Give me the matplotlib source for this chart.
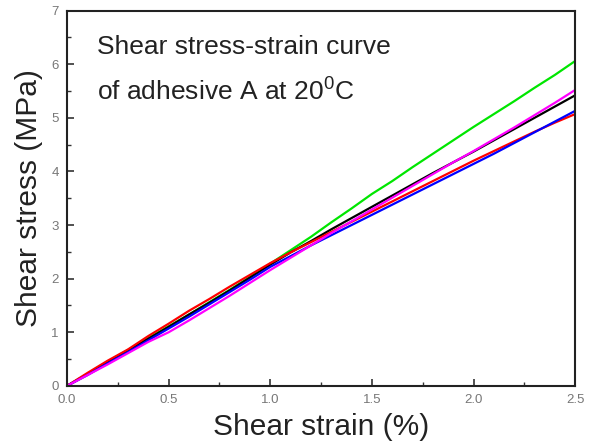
import matplotlib.pyplot as plt
import numpy as np

plt.rcParams['font.family'] = ['Liberation Sans', 'DejaVu Sans']

strain = [0.0, 0.1, 0.2, 0.3, 0.4, 0.5, 0.6, 0.7, 0.8, 0.9, 1.0, 1.1, 1.2,
          1.3, 1.4, 1.5, 1.6, 1.7, 1.8, 1.9, 2.0, 2.1, 2.2, 2.3, 2.4, 2.5]
green = [0, 0.22, 0.45, 0.67, 0.89, 1.11, 1.33, 1.56, 1.79, 2.03, 2.28, 2.53, 2.78,
         3.05, 3.31, 3.58, 3.82, 4.08, 4.33, 4.58, 4.83, 5.07, 5.31, 5.56, 5.80, 6.06]
black = [0, 0.22, 0.44, 0.66, 0.88, 1.10, 1.33, 1.55, 1.78, 2.02, 2.26, 2.49, 2.70,
         2.92, 3.13, 3.34, 3.55, 3.76, 3.97, 4.17, 4.37, 4.58, 4.79, 5.00, 5.21, 5.42]
red = [0, 0.24, 0.47, 0.68, 0.93, 1.16, 1.40, 1.62, 1.85, 2.07, 2.29, 2.49, 2.68,
       2.87, 3.06, 3.25, 3.44, 3.63, 3.82, 4.01, 4.20, 4.38, 4.56, 4.74, 4.91, 5.07]
blue = [0, 0.20, 0.42, 0.63, 0.85, 1.07, 1.29, 1.52, 1.75, 1.98, 2.22, 2.42, 2.62,
        2.81, 3.00, 3.19, 3.38, 3.57, 3.76, 3.95, 4.14, 4.33, 4.53, 4.73, 4.93, 5.13]
magenta = [0, 0.20, 0.40, 0.61, 0.82, 1.00, 1.22, 1.45, 1.68, 1.92, 2.16, 2.39, 2.62,
           2.85, 3.07, 3.29, 3.51, 3.73, 3.95, 4.17, 4.38, 4.60, 4.82, 5.05, 5.28, 5.52]

fig = plt.figure(figsize=(5.93, 4.41), dpi=100)
ax = fig.add_axes([0.113, 0.125, 0.857, 0.851])

ax.plot(strain, green, color='#00e600', lw=1.6)
ax.plot(strain, black, color='black', lw=1.6)
ax.plot(strain, red, color='red', lw=1.6)
ax.plot(strain, blue, color='blue', lw=1.6)
ax.plot(strain, magenta, color='#ff00ff', lw=1.6)

ax.set_xlim(0, 2.5)
ax.set_ylim(0, 7)
ax.set_xticks(np.arange(0, 2.51, 0.5))
ax.set_xticks(np.arange(0.25, 2.5, 0.5), minor=True)
ax.set_yticks(range(0, 8))
ax.set_yticks(np.arange(0.5, 7, 1.0), minor=True)
ax.set_xticklabels(['0.0', '0.5', '1.0', '1.5', '2.0', '2.5'])
ax.tick_params(which='both', direction='in', labelsize=9.5, labelcolor='#777777',
               color='#333333', top=False, right=False)
ax.tick_params(which='major', length=5, width=1.2, pad=6)
ax.tick_params(which='minor', length=3, width=1.0)
for s in ax.spines.values():
    s.set_linewidth(1.5)
    s.set_color('#222222')

ax.set_xlabel('Shear strain (%)', fontsize=21.5, color='#222222', labelpad=5)
ax.set_ylabel('Shear stress (MPa)', fontsize=21.5, color='#222222', labelpad=6)

ax.text(0.059, 0.902, 'Shear stress-strain curve', transform=ax.transAxes,
        fontsize=19, color='#222222', va='center')
ax.text(0.059, 0.787, 'of adhesive A at 20$^\\mathregular{0}$C', transform=ax.transAxes,
        fontsize=19, color='#222222', va='center')

plt.savefig('out.png', dpi=100)
